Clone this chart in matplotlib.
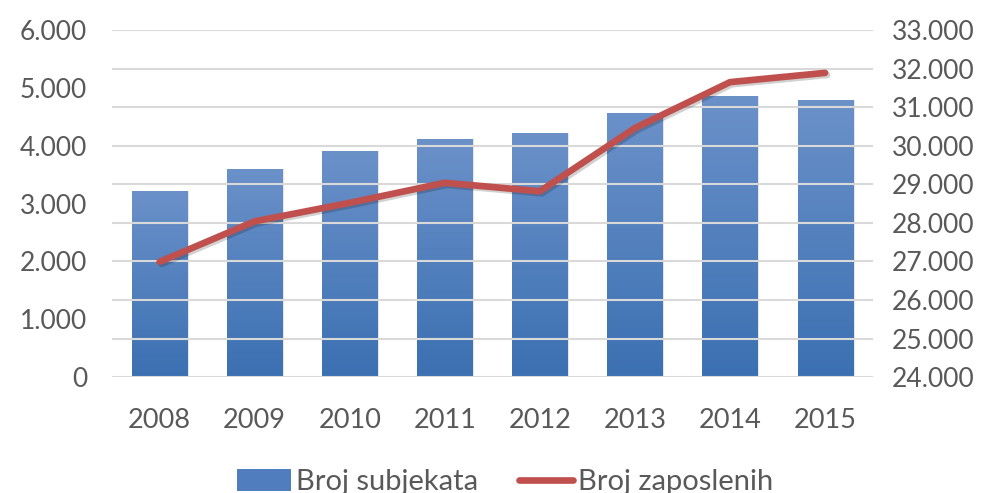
import numpy as np
import matplotlib
matplotlib.use("Agg")
import matplotlib.pyplot as plt
import matplotlib.patheffects as pe
from matplotlib.patches import Patch
from matplotlib.lines import Line2D
from matplotlib.ticker import FuncFormatter

plt.rcParams['font.family'] = ['Lato', 'DejaVu Sans']

# data
years = ['2008', '2009', '2010', '2011', '2012', '2013', '2014', '2015']
subjekti = [3220, 3600, 3910, 4120, 4220, 4570, 4860, 4790]
zaposleni = [26990, 28040, 28520, 29040, 28820, 30460, 31650, 31890]

left_ticks = [0, 1000, 2000, 3000, 4000, 5000, 6000]
right_ticks = [24000, 25000, 26000, 27000, 28000, 29000, 30000, 31000, 32000, 33000]

text_col = '#595959'
grid_col = '#D9D9D9'
bar_top = '#6B91C9'
bar_bot = '#3B70B2'
line_col = '#C0504D'

def dot_fmt(v, pos):
    return '{:,.0f}'.format(v).replace(',', '.')

fig = plt.figure(figsize=(9.95, 4.93), dpi=100)
ax = fig.add_axes([0.1126, 0.235, 0.7644, 0.704])
ax2 = ax.twinx()

x = np.arange(len(years))
ax.set_xlim(-0.5, 7.5)
ax.set_ylim(0, 6000)
ax2.set_ylim(24000, 33000)

# gridlines follow the right axis
for t in right_ticks:
    ax2.axhline(t, color=grid_col, lw=1.5, zorder=0)

# gradient bars
bars = ax.bar(x, subjekti, width=0.58, color='none', edgecolor='none', zorder=2)
grad = np.linspace(0, 1, 256).reshape(-1, 1)
cmap = matplotlib.colors.LinearSegmentedColormap.from_list('g', [bar_bot, bar_top])
for b in bars:
    x0, w, h = b.get_x(), b.get_width(), b.get_height()
    sh = plt.Rectangle((x0 + 0.02, 0), w, h, color='#000000', alpha=0.10, lw=0, zorder=1.5)
    ax.add_patch(sh)
    im = ax.imshow(grad, cmap=cmap, origin='lower', aspect='auto',
                   extent=(x0, x0 + w, 0, h), zorder=2)
    im.set_clip_path(b)

ax2.plot(x, zaposleni, color=line_col, lw=4.8, solid_capstyle='round',
         solid_joinstyle='round', zorder=3,
         path_effects=[pe.SimpleLineShadow(offset=(1.5, -1.5), alpha=0.18), pe.Normal()])

ax.set_xticks(x)
ax.set_xticklabels(years)
ax.set_yticks(left_ticks)
ax.yaxis.set_major_formatter(FuncFormatter(dot_fmt))
ax2.set_yticks(right_ticks)
ax2.yaxis.set_major_formatter(FuncFormatter(dot_fmt))

ax.tick_params(axis='x', length=0, pad=22, labelsize=19.5, labelcolor=text_col)
ax.tick_params(axis='y', length=0, pad=18, labelsize=19, labelcolor=text_col)
ax2.tick_params(axis='y', length=0, pad=14, labelsize=19, labelcolor=text_col)

for a in (ax, ax2):
    for s in a.spines.values():
        s.set_visible(False)
ax.set_zorder(ax2.get_zorder() - 1)
ax.patch.set_visible(False)

handles = [Patch(facecolor='#4F7DBE', edgecolor='none'),
           Line2D([0], [0], color=line_col, lw=4.8, solid_capstyle='round')]
fig.legend(handles, ['Broj subjekata', 'Broj zaposlenih'], loc='center',
           bbox_to_anchor=(505 / 995, 1 - 482 / 493), ncol=2, frameon=False,
           fontsize=21, labelcolor=text_col, handlelength=1.85, handletextpad=0.17,
           columnspacing=1.4, handleheight=0.75, borderpad=0)

fig.savefig('out.png', dpi=100)
